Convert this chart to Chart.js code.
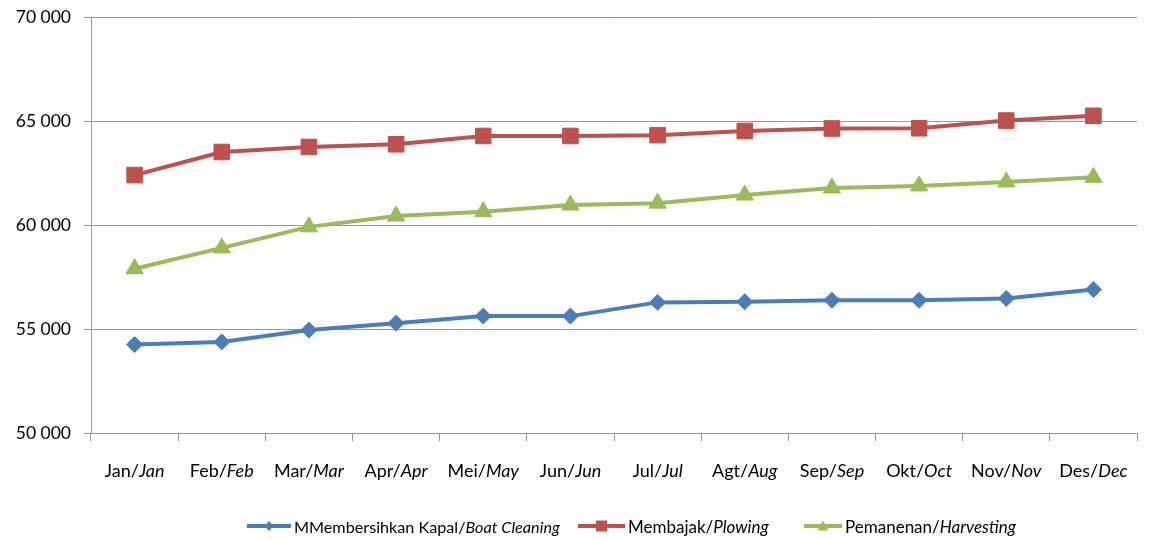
<!DOCTYPE html>
<html>
<head>
<meta charset="utf-8">
<script src="https://cdn.jsdelivr.net/npm/chart.js@4"></script>
<style>
  html, body { margin: 0; padding: 0; background: #fff; }
  #wrap { position: relative; width: 1149px; height: 539px; overflow: hidden; }
  #legend { position: absolute; left: 0; top: 515px; width: 1149px; height: 22px;
            font-family: Lato, "Open Sans", sans-serif; font-size: 17px; color: #000; }
  .item { position: absolute; top: 0; display: flex; align-items: center; height: 22px; white-space: nowrap; }
  .item svg { margin-right: 3px; }
</style>
</head>
<body>
<div id="wrap">
  <canvas id="c" width="1149" height="539"></canvas>
  <div id="legend"></div>
</div>
<script>
const categories = ["Jan/Jan","Feb/Feb","Mar/Mar","Apr/Apr","Mei/May","Jun/Jun","Jul/Jul","Agt/Aug","Sep/Sep","Okt/Oct","Nov/Nov","Des/Dec"];
const boatCleaning = [54250, 54380, 54950, 55280, 55620, 55620, 56280, 56310, 56380, 56380, 56470, 56900];
const plowing      = [62400, 63510, 63750, 63880, 64280, 64280, 64320, 64520, 64640, 64650, 65020, 65250];
const harvesting   = [57900, 58900, 59910, 60430, 60640, 60960, 61050, 61440, 61780, 61880, 62070, 62290];
const seriesNames = [
  ["MMembersihkan Kapal/", "Boat Cleaning"],
  ["Membajak/", "Plowing"],
  ["Pemanenan/", "Harvesting"]
];
const yTicks = [50000, 55000, 60000, 65000, 70000];

const colors = ["#4a7ebb", "#c0504d", "#9bbb59"];
const FONT = 'Lato, "Open Sans", sans-serif';

function fmt(v) { return String(v).replace(/\B(?=(\d{3})+(?!\d))/g, " "); }

const xLabelPlugin = {
  id: 'xLabels',
  afterDraw(chart) {
    const ctx = chart.ctx;
    const xs = chart.scales.x;
    ctx.save();
    ctx.fillStyle = '#000';
    ctx.textBaseline = 'middle';
    ctx.textAlign = 'left';
    const fReg = '18px ' + FONT;
    const fIt = 'italic 18px ' + FONT;
    categories.forEach((lab, i) => {
      const k = lab.indexOf('/');
      const a = lab.slice(0, k + 1), b = lab.slice(k + 1);
      ctx.font = fReg; const wa = ctx.measureText(a).width;
      ctx.font = fIt; const wb = ctx.measureText(b).width;
      const cx = xs.getPixelForValue(i);
      let x0 = cx - (wa + wb) / 2;
      ctx.font = fReg; ctx.fillText(a, x0, 471);
      ctx.font = fIt; ctx.fillText(b, x0 + wa, 471);
    });
    ctx.restore();
  }
};

new Chart(document.getElementById('c'), {
  type: 'line',
  data: {
    labels: categories,
    datasets: [
      { label: seriesNames[0].join(''), data: boatCleaning, borderColor: colors[0], backgroundColor: colors[0],
        pointStyle: 'rectRot', pointRadius: 8, pointHoverRadius: 8, borderWidth: 4, pointBorderWidth: 1 },
      { label: seriesNames[1].join(''), data: plowing, borderColor: colors[1], backgroundColor: colors[1],
        pointStyle: 'rect', pointRadius: 11, pointHoverRadius: 11, borderWidth: 4, pointBorderWidth: 1 },
      { label: seriesNames[2].join(''), data: harvesting, borderColor: colors[2], backgroundColor: colors[2],
        pointStyle: 'triangle', pointRadius: 10, pointHoverRadius: 10, borderWidth: 4, pointBorderWidth: 1 }
    ]
  },
  options: {
    responsive: false,
    animation: false,
    devicePixelRatio: 1,
    layout: { padding: { top: 17, right: 9, left: 0, bottom: 0 } },
    plugins: { legend: { display: false }, tooltip: { enabled: false } },
    elements: { line: { tension: 0 } },
    scales: {
      x: {
        offset: true,
        grid: { display: true, drawOnChartArea: false, drawTicks: true, tickLength: 8, offset: true, color: '#999' },
        border: { display: true, color: '#999' },
        ticks: { color: 'rgba(0,0,0,0)', font: { family: FONT, size: 18 } },
        afterFit(s) { s.height = 106; s.paddingLeft = 0; s.paddingRight = 0; }
      },
      y: {
        min: 50000, max: 70000,
        afterBuildTicks(s) { s.ticks = yTicks.map(v => ({ value: v })); },
        grid: { color: '#999', tickLength: 7, drawTicks: true },
        border: { display: true, color: '#999' },
        ticks: { color: '#000', padding: 13, font: { family: FONT, size: 17.5 }, callback: v => fmt(v) },
        afterFit(s) { s.width = 91; s.paddingTop = 0; s.paddingBottom = 0; }
      }
    }
  },
  plugins: [xLabelPlugin]
});

// HTML legend
const legend = document.getElementById('legend');
const lefts = [247, 578, 804];
const lineW = [44, 47, 38];
const fontSizes = [16.2, 17, 17];
const shapes = [
  (c, w) => `<polygon points="${w/2},6 ${w/2+4.5},11 ${w/2},16 ${w/2-4.5},11" fill="${c}"/>`,
  (c, w) => `<rect x="${w/2-5.5}" y="5.5" width="11" height="11" fill="${c}"/>`,
  (c, w) => `<polygon points="${w/2},5.5 ${w/2+5.5},15.5 ${w/2-5.5},15.5" fill="${c}"/>`
];
seriesNames.forEach((n, i) => {
  const d = document.createElement('div');
  d.className = 'item';
  d.style.left = lefts[i] + 'px';
  d.style.fontSize = fontSizes[i] + 'px';
  const w = lineW[i];
  d.innerHTML = `<svg width="${w}" height="22"><line x1="0" y1="11" x2="${w}" y2="11" stroke="${colors[i]}" stroke-width="4"/>${shapes[i](colors[i], w)}</svg><span>${n[0]}<i>${n[1]}</i></span>`;
  legend.appendChild(d);
});
</script>
</body>
</html>
